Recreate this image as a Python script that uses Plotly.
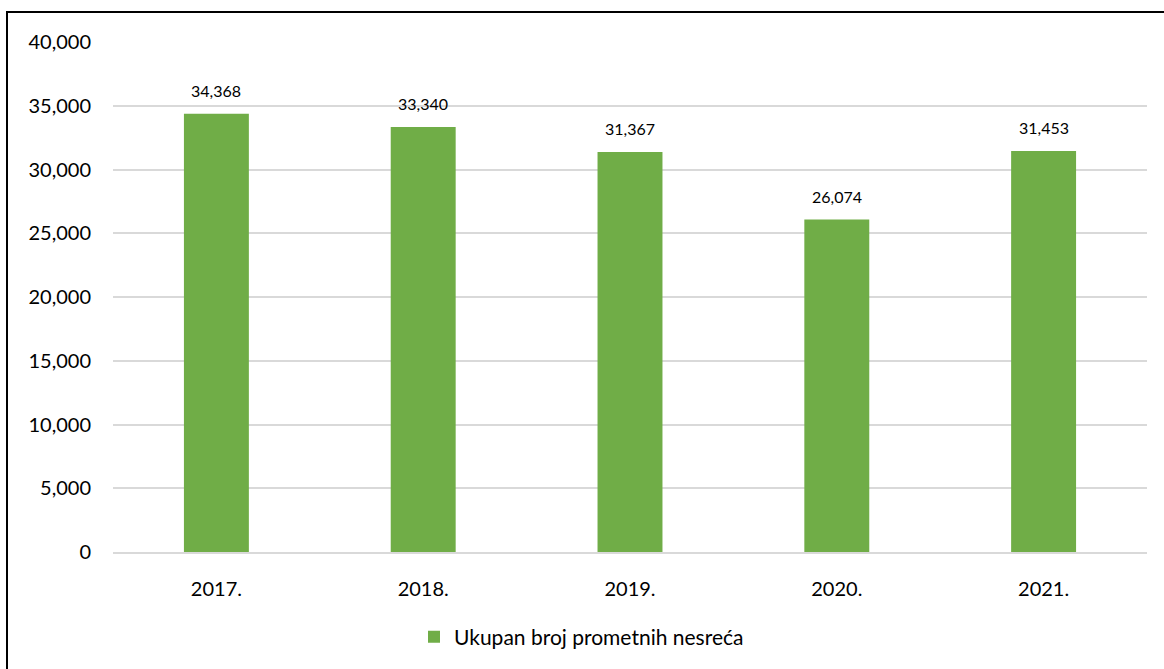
import plotly.graph_objects as go

years = ["2017.", "2018.", "2019.", "2020.", "2021."]
accidents = [34368, 33340, 31367, 26074, 31453]
series_name = "Ukupan broj prometnih nesreća"
y_ticks = [0, 5000, 10000, 15000, 20000, 25000, 30000, 35000, 40000]

W, H = 1164, 669
L, R, T, B = 113, 17, 42, 117
pw, ph = W - L - R, H - T - B

def px_x(x):
    return (x - L) / pw

def px_y(y):
    return (H - B - y) / ph

FONT = "Lato, 'Open Sans', sans-serif"

fig = go.Figure()
fig.add_trace(go.Bar(
    x=years, y=accidents, name=series_name,
    marker=dict(color="#70AD47", line=dict(width=0)),
    showlegend=True,
))

for i, v in enumerate(accidents):
    fig.add_annotation(x=i, y=v, xref="x", yref="y", text=f"{v:,}",
                       showarrow=False, yanchor="bottom", yshift=12,
                       font=dict(family=FONT, size=16, color="#000000"))

fig.add_shape(type="rect", xref="paper", yref="paper",
              x0=px_x(7), x1=px_x(1175), y0=px_y(12), y1=px_y(690),
              line=dict(color="#000000", width=2), fillcolor="rgba(0,0,0,0)",
              layer="above")

fig.update_layout(
    width=W, height=H,
    margin=dict(l=L, r=R, t=T, b=B),
    paper_bgcolor="white", plot_bgcolor="white",
    bargap=0.686,
    font=dict(family=FONT, size=20, color="#000000"),
    showlegend=True,
    legend=dict(orientation="h", x=px_x(414), xanchor="left",
                y=px_y(637), yanchor="middle",
                font=dict(family=FONT, size=21, color="#000000"),
                itemwidth=30),
    xaxis=dict(type="category", range=[-0.5, len(years) - 0.5],
               showgrid=False, showline=True,
               linecolor="#d9d9d9", linewidth=2,
               ticks="", ticklabelstandoff=18,
               tickfont=dict(family=FONT, size=20)),
    yaxis=dict(range=[0, 40000], tickvals=y_ticks, tickformat=",d",
               showgrid=True, gridcolor="#d9d9d9", gridwidth=2,
               zeroline=False, showline=False, ticks="",
               ticklabelstandoff=21,
               tickfont=dict(family=FONT, size=20)),
)

fig.write_html("out.html", config={"displayModeBar": False},
               post_script="document.body.style.margin='0';document.body.style.overflow='hidden';")
